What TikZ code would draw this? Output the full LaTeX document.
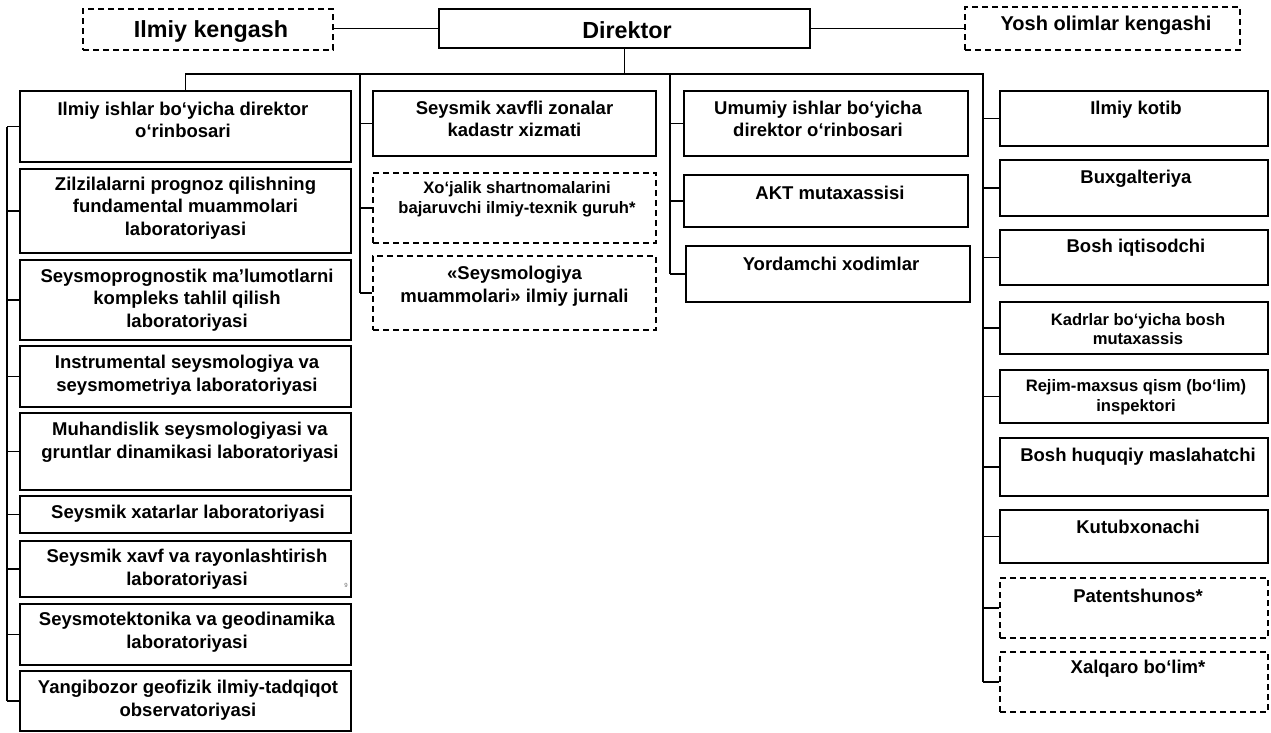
\documentclass[tikz,border=0pt]{standalone}
\usepackage{fontspec}
\setmainfont{Liberation Sans}
\usetikzlibrary{calc}
\tikzset{
  unitbox/.style={draw=black,line width=1.5pt,inner sep=0pt,minimum width=#1},
  dunitbox/.style={unitbox=#1,dash pattern=on 6pt off 4pt},
  unittxt/.style={align=center,font=\fontsize{18.5}{22.5}\selectfont\bfseries,inner sep=0pt},
  smalltxt/.style={align=center,font=\fontsize{16.6}{19.5}\selectfont\bfseries,inner sep=0pt},
  link/.style={line width=1.6pt}
}

\begin{document}
\begin{tikzpicture}[x=1pt,y=-1pt]
\useasboundingbox (0,0) rectangle (1271,732);

\node[dunitbox=250pt,minimum height=41pt] (ik) at (208,29.5) {};
\node[unitbox=371pt,minimum height=39pt] (dir) at (624.5,28.5) {};
\node[dunitbox=275pt,minimum height=43pt] (yok) at (1102.5,28.5) {};

\node[font=\fontsize{23.3}{26}\selectfont\bfseries] (ikt) at (211,32) {Ilmiy kengash};
\node[font=\fontsize{23.3}{26}\selectfont\bfseries] (dirt) at (627,30) {Direktor};
\node[font=\fontsize{20}{24}\selectfont\bfseries] (yokt) at (1106,25) {Yosh olimlar kengashi};

\node[unitbox=331pt,minimum height=71pt] (b1) at (185.5,126.5) {};
\node[unitbox=331pt,minimum height=84pt] (b2) at (185.5,211) {};
\node[unitbox=331pt,minimum height=80pt] (b3) at (185.5,300) {};
\node[unitbox=331pt,minimum height=61pt] (b4) at (185.5,376.5) {};
\node[unitbox=331pt,minimum height=77pt] (b5) at (185.5,451.5) {};
\node[unitbox=331pt,minimum height=37pt] (b6) at (185.5,514.5) {};
\node[unitbox=331pt,minimum height=56pt] (b7) at (185.5,569) {};
\node[unitbox=331pt,minimum height=61pt] (b8) at (185.5,634.5) {};
\node[unitbox=331pt,minimum height=60pt] (b9) at (185.5,701) {};

\node[unittxt] (b1t) at (183,120) {Ilmiy ishlar bo‘yicha direktor\\o‘rinbosari};
\node[unittxt] (b2t) at (185.5,208) {Zilzilalarni prognoz qilishning\\fundamental muammolari\\laboratoriyasi};
\node[unittxt] (b3t) at (187,300) {Seysmoprognostik ma’lumotlarni\\kompleks tahlil qilish\\laboratoriyasi};
\node[unittxt] (b4t) at (187,375) {Instrumental seysmologiya va\\seysmometriya laboratoriyasi};
\node[unittxt] (b5t) at (190,442) {Muhandislik seysmologiyasi va\\gruntlar dinamikasi laboratoriyasi};
\node[unittxt] (b6t) at (188,514) {Seysmik xatarlar laboratoriyasi};
\node[unittxt] (b7t) at (187,569) {Seysmik xavf va rayonlashtirish\\laboratoriyasi};
\node[unittxt] (b8t) at (187,632) {Seysmotektonika va geodinamika\\laboratoriyasi};
\node[unittxt] (b9t) at (188,700) {Yangibozor geofizik ilmiy-tadqiqot\\observatoriyasi};
\node[font=\fontsize{6}{6}\selectfont,text=black!60,inner sep=0pt] (pgno) at (346,585) {9};

\node[unitbox=283pt,minimum height=65pt] (c1) at (514.5,123.5) {};
\node[dunitbox=283pt,minimum height=70pt] (c2) at (514.5,208) {};
\node[dunitbox=283pt,minimum height=74pt] (c3) at (514.5,293) {};

\node[unittxt] (c1t) at (514.5,119) {Seysmik xavfli zonalar\\kadastr xizmati};
\node[smalltxt] (c2t) at (517,199) {Xo‘jalik shartnomalarini\\bajaruvchi ilmiy-texnik guruh*};
\node[unittxt] (c3t) at (514.5,286) {«Seysmologiya\\muammolari» ilmiy jurnali};

\node[unitbox=284pt,minimum height=65pt] (d1) at (826,123.5) {};
\node[unitbox=284pt,minimum height=52pt] (d2) at (826,201) {};
\node[unitbox=284pt,minimum height=56pt] (d3) at (828,274) {};

\node[unittxt] (d1t) at (818,119) {Umumiy ishlar bo‘yicha\\direktor o‘rinbosari};
\node[unittxt] (d2t) at (830,193) {AKT mutaxassisi};
\node[unittxt] (d3t) at (831,264) {Yordamchi xodimlar};

\node[unitbox=268pt,minimum height=55pt] (e1) at (1134,118.5) {};
\node[unitbox=268pt,minimum height=56pt] (e2) at (1134,188) {};
\node[unitbox=268pt,minimum height=55pt] (e3) at (1134,257.5) {};
\node[unitbox=268pt,minimum height=52pt] (e4) at (1134,328) {};
\node[unitbox=268pt,minimum height=53pt] (e5) at (1134,396.5) {};
\node[unitbox=268pt,minimum height=58pt] (e6) at (1134,467) {};
\node[unitbox=268pt,minimum height=53pt] (e7) at (1134,536.5) {};
\node[dunitbox=268pt,minimum height=60pt] (e8) at (1134,608) {};
\node[dunitbox=268pt,minimum height=60pt] (e9) at (1134,682) {};

\node[unittxt] (e1t) at (1136,110) {Ilmiy kotib};
\node[unittxt] (e2t) at (1136,179) {Buxgalteriya};
\node[unittxt] (e3t) at (1136,248) {Bosh iqtisodchi};
\node[smalltxt] (e4t) at (1138,329) {Kadrlar bo‘yicha bosh\\mutaxassis};
\node[smalltxt] (e5t) at (1136,397) {Rejim-maxsus qism (bo‘lim)\\inspektori};
\node[unittxt] (e6t) at (1138,457) {Bosh huquqiy maslahatchi};
\node[unittxt] (e7t) at (1138,527) {Kutubxonachi};
\node[unittxt] (e8t) at (1138,596) {Patentshunos*};
\node[unittxt] (e9t) at (1138,669) {Xalqaro bo‘lim*};

\coordinate (bus) at (0,74);
\coordinate (s1) at (7,0);
\coordinate (s2) at (360,0);
\coordinate (s3) at (670,0);
\coordinate (s4) at (983,0);

\draw[link] (ik.east |- dir.west) -- (dir.west);
\draw[link] (dir.east) -- (yok.west |- dir.east);
\draw[link] (dir.south) -- (dir.south |- bus);
\draw[link] (b1.north) |- (s4 |- bus) -- (s4 |- e9.west);
\draw[link] (s2 |- bus) -- (s2 |- c3.west);
\draw[link] (s3 |- bus) -- (s3 |- d3.west);
\draw[link] (s1 |- b1.west) -- (s1 |- b9.west);

\draw[link] (s1 |- b1.west) -- (b1.west);
\draw[link] (s1 |- b2.west) -- (b2.west);
\draw[link] (s1 |- b3.west) -- (b3.west);
\draw[link] (s1 |- b4.west) -- (b4.west);
\draw[link] (s1 |- b5.west) -- (b5.west);
\draw[link] (s1 |- b6.west) -- (b6.west);
\draw[link] (s1 |- b7.west) -- (b7.west);
\draw[link] (s1 |- b8.west) -- (b8.west);
\draw[link] (s1 |- b9.west) -- (b9.west);

\draw[link] (s2 |- c1.west) -- (c1.west);
\draw[link] (s2 |- c2.west) -- (c2.west);
\draw[link] (s2 |- c3.west) -- (c3.west);

\draw[link] (s3 |- d1.west) -- (d1.west);
\draw[link] (s3 |- d2.west) -- (d2.west);
\draw[link] (s3 |- d3.west) -- (d3.west);

\draw[link] (s4 |- e1.west) -- (e1.west);
\draw[link] (s4 |- e2.west) -- (e2.west);
\draw[link] (s4 |- e3.west) -- (e3.west);
\draw[link] (s4 |- e4.west) -- (e4.west);
\draw[link] (s4 |- e5.west) -- (e5.west);
\draw[link] (s4 |- e6.west) -- (e6.west);
\draw[link] (s4 |- e7.west) -- (e7.west);
\draw[link] (s4 |- e8.west) -- (e8.west);
\draw[link] (s4 |- e9.west) -- (e9.west);

\end{tikzpicture}
\end{document}
